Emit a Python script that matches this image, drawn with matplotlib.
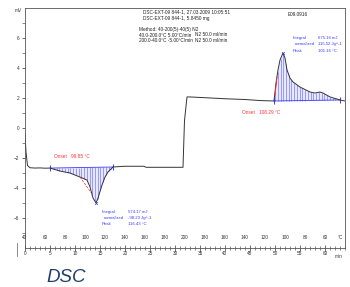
import numpy as np
from matplotlib import pyplot as plt
from matplotlib.lines import Line2D

plt.rcParams['font.family'] = ['Liberation Sans', 'DejaVu Sans']

# DSC curve: time (min) vs heat flow (mV)
t = [0.0, 0.2, 0.5, 1.0, 2.0, 3.0, 4.0, 5.0, 7.0, 9.0, 11.0, 12.4, 13.0, 13.6, 14.2,
     14.6, 15.4, 16.0, 16.6, 17.4, 17.6, 20.0, 23.8, 24.2, 28.0, 31.6, 31.9, 32.4,
     33.0, 36.0, 40.0, 44.0, 47.0, 49.8, 50.2, 50.6, 51.0, 51.6, 52.0, 52.4, 53.0,
     53.6, 55.0, 57.0, 58.0, 59.0, 59.6, 61.0, 63.0, 64.0]
mv = [-0.4, -1.6, -2.5, -2.65, -2.67, -2.66, -2.68, -2.67, -2.87, -3.0, -3.27, -3.47,
      -3.93, -4.67, -5.0, -4.67, -3.8, -3.27, -2.93, -2.67, -2.6, -2.55, -2.55, -2.62,
      -2.62, -2.62, 0.5, 2.07, 2.07, 2.02, 1.95, 1.9, 1.83, 1.8, 3.0, 3.87, 4.53, 5.0,
      4.67, 3.87, 3.33, 3.07, 2.73, 2.4, 2.33, 2.4, 2.33, 2.07, 1.87, 1.8]

# integration baselines (start/end)
endo_base_t = [5.0, 17.6]
endo_base_mv = [-2.67, -2.6]
exo_base_t = [49.8, 63.0]
exo_base_mv = [1.8, 1.87]
endo_peak = (14.2, -5.0)
exo_peak = (51.6, 5.0)

# temperature program labels
heat_temps = [40, 60, 80, 100, 120, 140, 160, 180, 200]
cool_temps = [180, 160, 140, 120, 100, 80, 60]
time_ticks = [0, 5, 10, 15, 20, 25, 30, 35, 40, 45, 50, 55, 60]
mv_ticks = [-6, -4, -2, 0, 2, 4, 6]

header = ["DSC-EXT-09 844-1, 27.03.2009 10:05:51",
          "DSC-EXT-09 844-1, 5.8450 mg"]
method = ["Method: 40-200(5)-40(5) N2",
          "40.0-200.0\u00b0C 5.00\u00b0C/min",
          "200.0-40.0\u00b0C -5.00\u00b0C/min"]
gas = ["N2 50.0 ml/min", "N2 50.0 ml/min"]
endo_res = [("Integral", "574.17 mJ"), ("normalized", "-98.23 Jg^-1"), ("Peak", "116.43 \u00b0C")]
exo_res = [("Integral", "675.16 mJ"), ("normalized", "115.52 Jg^-1"), ("Peak", "101.16 \u00b0C")]

fig = plt.figure(figsize=(3.5, 2.87), dpi=100)
ax = fig.add_axes([25 / 350, 1 - 248 / 287, 320 / 350, 240 / 287])
ax.set_xlim(0, 64)
ax.set_ylim(-8, 8)

blue = '#3a3aff'
hatch_blue = '#5a5aff'
red = '#ff3030'

# hatched peak areas
for bt, bm in [(endo_base_t, endo_base_mv), (exo_base_t, exo_base_mv)]:
    ht = np.arange(bt[0] + 0.2, bt[1], 0.55)
    yc = np.interp(ht, t, mv)
    yb = np.interp(ht, bt, bm)
    tt = np.linspace(bt[0], bt[1], 200)
    ax.fill_between(tt, np.interp(tt, t, mv), np.interp(tt, bt, bm), color='#e8e8ff', lw=0)
    ax.vlines(ht, yb, yc, color=hatch_blue, lw=0.4)
    ax.plot(bt, bm, color=blue, lw=0.6)
    ax.plot(bt, bm, ls='none', marker='|', ms=4, mew=0.7, color=blue)

ax.plot(t, mv, color='#333333', lw=0.7)
ax.plot(*endo_peak, marker='x', ms=2, mew=0.5, color=blue)
ax.plot(*exo_peak, marker='x', ms=2, mew=0.5, color=blue)

# onset tangents
ax.plot([11.0, 13.2], [-3.27, -4.3], color=red, lw=0.5, ls='--')
ax.plot([50.0, 50.4], [2.2, 3.4], color=red, lw=0.6)
ax.plot(50.2, 3.0, marker='|', ms=2, color=red, mew=0.6)

fs = 3.4
fs_res = 3.1
ax.text(5.8, -1.93, "Onset   99.85 \u00b0C", color=red, fontsize=fs, va='center')
ax.text(43.4, 1.0, "Onset   108.29 \u00b0C", color=red, fontsize=fs, va='center')

for i, s in enumerate(header):
    ax.text(23.6, 7.75 - i * 0.48, s, fontsize=fs, va='center', color='#222222')
for i, s in enumerate(method):
    ax.text(22.8, 6.55 - i * 0.36, s, fontsize=fs, va='center', color='#222222')
for i, s in enumerate(gas):
    ax.text(34.0, 6.2 - i * 0.36, s, fontsize=fs, va='center', color='#222222')
ax.text(52.6, 7.55, "E09.0916", fontsize=fs, va='center', color='#222222')

for i, (a, b) in enumerate(endo_res):
    ax.text(15.4 + (0.4 if i == 1 else 0), -5.6 - i * 0.4, a, fontsize=fs_res, va='center', color=blue)
    ax.text(20.7, -5.6 - i * 0.4, b, fontsize=fs_res, va='center', color=blue)
for i, (a, b) in enumerate(exo_res):
    ax.text(53.6 + (0.4 if i == 1 else 0), 6.0 - i * 0.43, a, fontsize=fs_res, va='center', color=blue)
    ax.text(58.5, 6.0 - i * 0.43, b, fontsize=fs_res, va='center', color=blue)

# temperature axis labels inside the plot
for T in heat_temps:
    ax.text((T - 40) / 5, -7.33, str(T), fontsize=fs, ha='center', va='center', color='#333333')
for T in cool_temps:
    ax.text(32 + (200 - T) / 5, -7.33, str(T), fontsize=fs, ha='center', va='center', color='#333333')
ax.text(63.0, -7.33, "\u00b0C", fontsize=fs, ha='center', va='center', color='#333333')

ax.set_xticks(time_ticks)
ax.set_xticks(np.arange(0, 65, 1), minor=True)
ax.set_yticks(mv_ticks)
ax.set_yticks([-7, -5, -3, -1, 1, 3, 5, 7], minor=True)
ax.tick_params(axis='x', which='major', direction='inout', length=4, width=0.5,
               labelsize=fs, pad=0.5, colors='#333333')
ax.tick_params(axis='x', which='minor', direction='inout', length=2.5, width=0.4, colors='#333333')
ax.tick_params(axis='y', which='major', direction='out', length=2.5, width=0.5,
               labelsize=fs, pad=1.5, colors='#333333')
ax.tick_params(axis='y', which='minor', direction='out', length=2, width=0.4, colors='#333333')
ax.text(62.7, -8.55, "min", fontsize=fs, ha='center', va='center', color='#333333')
fig.text(18 / 350, 1 - 10 / 287, "mV", fontsize=fs, ha='center', va='center', color='#333333')

for sp in ax.spines.values():
    sp.set_color('#555555')
    sp.set_linewidth(0.6)

fig.add_artist(Line2D([17 / 350, 17 / 350], [1 - 243 / 287, 1 - 256 / 287],
                      transform=fig.transFigure, color='#777777', lw=0.6))

fig.text(46 / 350, 1 - 277 / 287, "DSC", fontsize=13.5, style='italic',
         color='#1f3f6e', va='center', ha='left')

fig.savefig('out.png', dpi=100)
